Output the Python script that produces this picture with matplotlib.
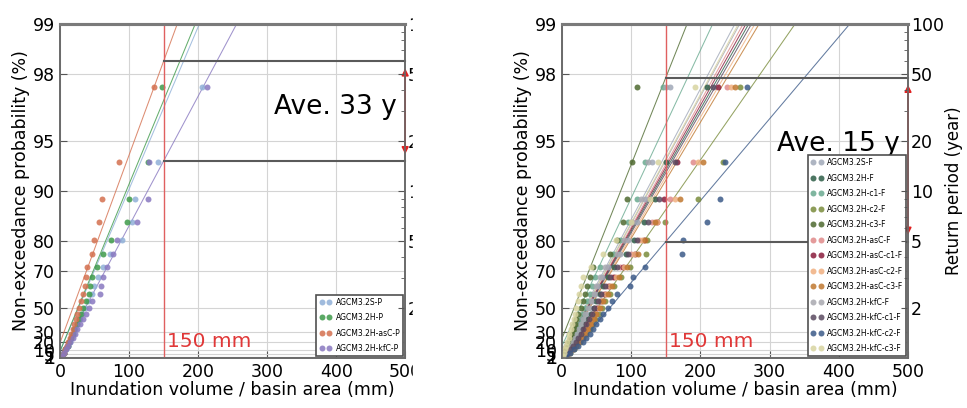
import numpy as np
import matplotlib
matplotlib.use('Agg')
import matplotlib.pyplot as plt
from matplotlib.ticker import NullLocator, NullFormatter

# plotting positions (non-exceedance probability, %) of the 23 ranked annual maxima
prob = [97.6, 93.3, 88.9, 84.6, 80.3, 76.0, 71.6, 67.3, 63.0, 58.6, 54.3, 50.0,
        45.7, 41.3, 37.0, 32.7, 28.4, 24.0, 19.7, 15.4, 11.1, 6.7, 2.4]

p_ticks = [1, 2, 5, 10, 20, 30, 50, 70, 80, 90, 95, 98, 99]
T_ticks = [2, 5, 10, 20, 50, 100]
x_ticks = [0, 100, 200, 300, 400, 500]
threshold = 150

# ---- left panel: present climate ----
names_p = ["AGCM3.2S-P", "AGCM3.2H-P", "AGCM3.2H-asC-P", "AGCM3.2H-kfC-P"]
colors_p = ["#8fb0d8", "#3e9a4a", "#d4704f", "#8878c0"]
vals_p = [
    [206, 142, 109, 104, 90, 72, 62, 55, 50, 46, 40, 36, 32, 29, 25, 22, 19, 16, 14, 11, 9, 6, 3],
    [148, 127, 100, 97, 74, 62, 53, 46, 44, 42, 37, 33, 30, 27, 24, 21, 19, 16, 13, 11, 8, 6, 3],
    [136, 86, 61, 57, 49, 47, 39, 38, 36, 33, 30, 27, 25, 23, 21, 19, 16, 14, 12, 10, 8, 6, 3],
    [213, 129, 128, 112, 82, 77, 68, 62, 60, 58, 47, 42, 38, 33, 29, 25, 22, 19, 15, 12, 9, 6, 3],
]
# fitted line: x = icpt + slope * log10(return period)
icpt_p = [-4, -4, -8, -2]
slope_p = [103, 100, 89, 129]

# ---- right panel: future climate ----
names_f = ["AGCM3.2S-F", "AGCM3.2H-F", "AGCM3.2H-c1-F", "AGCM3.2H-c2-F", "AGCM3.2H-c3-F",
           "AGCM3.2H-asC-F", "AGCM3.2H-asC-c1-F", "AGCM3.2H-asC-c2-F", "AGCM3.2H-asC-c3-F",
           "AGCM3.2H-kfC-F", "AGCM3.2H-kfC-c1-F", "AGCM3.2H-kfC-c2-F", "AGCM3.2H-kfC-c3-F"]
colors_f = ["#a0a8b8", "#2e5e48", "#6aaa90", "#7a8c3c", "#4f6a30",
            "#e08a8a", "#8a1c3c", "#f0b080", "#c07830",
            "#a8a8b0", "#5a4a60", "#3c5a88", "#d8d4a0"]
vals_f = [
    [156, 130, 120, 108, 95, 84, 66, 58, 52, 48, 44, 40, 36, 33, 30, 27, 24, 21, 18, 15, 12, 8, 4],
    [210, 150, 135, 118, 104, 92, 75, 66, 60, 55, 50, 46, 42, 38, 34, 30, 27, 23, 20, 16, 12, 8, 4],
    [146, 120, 108, 95, 84, 74, 55, 48, 44, 41, 37, 34, 31, 28, 25, 22, 19, 16, 14, 11, 9, 6, 3],
    [257, 233, 197, 149, 123, 121, 98, 85, 76, 69, 63, 58, 53, 48, 44, 40, 35, 31, 26, 21, 17, 12, 6],
    [108, 101, 94, 88, 79, 69, 45, 40, 36, 33, 30, 27, 24, 21, 19, 17, 15, 13, 11, 9, 7, 5, 2],
    [238, 190, 156, 130, 112, 100, 84, 72, 65, 59, 54, 49, 45, 41, 37, 33, 29, 25, 21, 17, 13, 9, 5],
    [225, 166, 148, 138, 118, 106, 88, 76, 68, 62, 56, 51, 46, 42, 38, 34, 30, 26, 22, 18, 14, 9, 5],
    [245, 197, 163, 137, 116, 104, 90, 78, 70, 64, 58, 53, 48, 44, 40, 36, 32, 28, 24, 19, 15, 10, 5],
    [250, 204, 170, 135, 120, 110, 94, 82, 73, 66, 60, 55, 50, 46, 42, 38, 34, 29, 25, 20, 16, 11, 6],
    [150, 125, 115, 102, 90, 80, 62, 55, 50, 46, 42, 38, 34, 31, 28, 25, 22, 19, 16, 13, 10, 7, 4],
    [218, 163, 140, 124, 108, 96, 80, 70, 63, 57, 52, 47, 43, 39, 35, 31, 28, 24, 20, 16, 12, 8, 4],
    [267, 236, 228, 210, 175, 173, 120, 103, 98, 80, 72, 66, 60, 55, 50, 45, 40, 35, 30, 24, 18, 12, 6],
    [192, 139, 128, 100, 78, 60, 42, 30, 27, 25, 23, 21, 19, 17, 15, 13, 11, 10, 8, 6, 5, 3, 1],
]
icpt_f = [-6, -4, -8, 1, -11, -4, -4, -3, -3, -5, -4, 8, -5]
slope_f = [128, 137, 113, 168, 96, 133, 135, 141, 144, 131, 139, 204, 130]


def fwd(p):
    p = np.asarray(p, dtype=float)
    return -np.log10(np.clip(1 - p / 100.0, 1e-9, None))


def inv(z):
    return 100 * (1 - 10 ** (-np.asarray(z, dtype=float)))


def panel(ax, names, colors, vals, icpt, slope, ave_text, ave_y):
    ax.set_yscale('function', functions=(fwd, inv))
    zz = np.linspace(0, 2.1, 60)
    for name, c, v, a, b in zip(names, colors, vals, icpt, slope):
        ax.plot(v, prob, 'o', ms=4.3, color=c, mec='none', alpha=0.85, label=name, zorder=3)
        ax.plot(a + b * zz, inv(zz), '-', color=c, lw=0.75, alpha=0.8, zorder=2)
    ax.set_xlim(0, 500)
    ax.set_ylim(0, 99)
    ax.set_xticks(x_ticks)
    ax.set_yticks(p_ticks)
    ax.set_yticklabels([str(p) for p in p_ticks])
    ax.yaxis.set_minor_locator(NullLocator())
    ax.grid(True, color='#d4d4d4', lw=0.8, zorder=0)
    ax.tick_params(direction='in', labelsize=12.5, length=5, color='#555555')
    ax.set_xlabel('Inundation volume / basin area (mm)', fontsize=12.5, labelpad=0)
    ax.set_ylabel('Non-exceedance probability (%)', fontsize=12.5, labelpad=2)

    # threshold and range of return periods at 150 mm
    ax.axvline(threshold, color='#e06060', lw=1.0, zorder=4)
    ax.text(threshold + 5, 0.02, '150 mm', color='#e03838', fontsize=14.5,
            transform=ax.get_xaxis_transform(), va='bottom', ha='left')
    zc = [(threshold - a) / b for a, b in zip(icpt, slope)]
    p_hi, p_lo = inv(max(zc)), inv(min(zc))
    for pp in (p_hi, p_lo):
        ax.plot([threshold, 500], [pp, pp], color='#5a5a5a', lw=1.5, zorder=4, clip_on=False)
    ax.annotate('', xy=(500, p_hi), xytext=(500, p_lo), annotation_clip=False,
                arrowprops=dict(arrowstyle='<|-|>', color='#e02020', lw=1.2,
                                shrinkA=5, shrinkB=5, mutation_scale=10), zorder=6)
    ax.text(0.975, ave_y, ave_text, transform=ax.transAxes, ha='right', va='center',
            fontsize=19, zorder=5)

    leg = ax.legend(loc='lower right', numpoints=2, fontsize=5.5, labelspacing=0.85,
                    fancybox=False, edgecolor='#505050', framealpha=1,
                    borderaxespad=0.25, handletextpad=0.5, handlelength=1.6, borderpad=0.4)
    leg.get_frame().set_linewidth(1.2)
    leg.set_zorder(7)

    ax2 = ax.twinx()
    ax2.set_yscale('log')
    ax2.set_ylim(1, 100)
    ax2.set_yticks(T_ticks)
    ax2.set_yticklabels([str(t) for t in T_ticks])
    ax2.yaxis.set_minor_formatter(NullFormatter())
    ax2.tick_params(which='both', direction='in', labelsize=12.5, color='#555555', pad=2)
    ax2.tick_params(which='major', length=5)
    ax2.tick_params(which='minor', length=3)
    ax2.set_ylabel('Return period (year)', fontsize=12, labelpad=1)
    for a in (ax, ax2):
        for s in a.spines.values():
            s.set_color('#6a6a6a')
            s.set_linewidth(1.2)
        a.spines['top'].set_linewidth(2.2)
        a.spines['top'].set_color('#7a7a7a')


fig = plt.figure(figsize=(9.67, 4.08), dpi=100)
ax_l = fig.add_axes([0.062, 0.1225, 0.357, 0.819])
ax_r = fig.add_axes([0.581, 0.1225, 0.358, 0.819])

panel(ax_l, names_p, colors_p, vals_p, icpt_p, slope_p, 'Ave. 33 y', 0.75)
panel(ax_r, names_f, colors_f, vals_f, icpt_f, slope_f, 'Ave. 15 y', 0.64)

# the left figure is cropped at its right edge in the source layout
fig.add_artist(plt.Rectangle((413 / 967, 0), (492 - 413) / 967, 1,
                             transform=fig.transFigure, color='white', zorder=20))

fig.savefig('out.png', dpi=100)
